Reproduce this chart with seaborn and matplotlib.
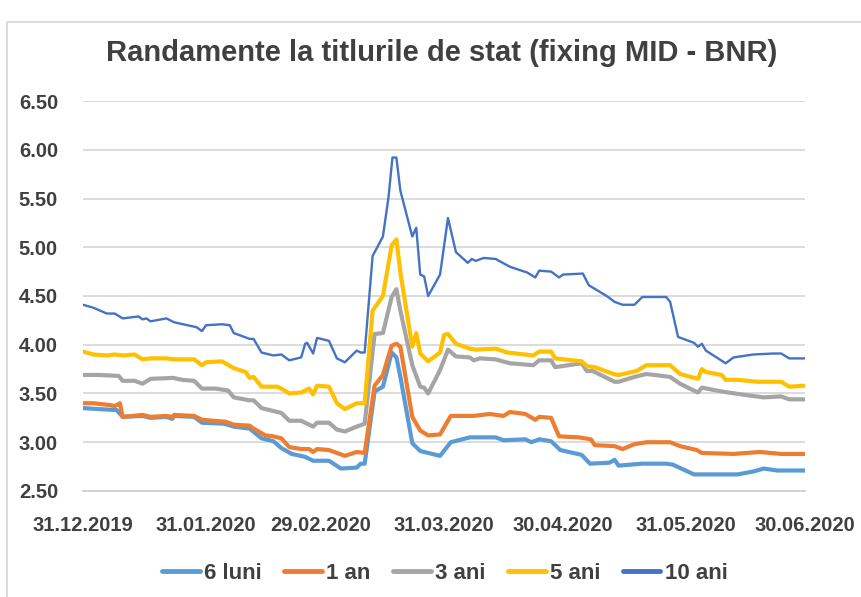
import pandas as pd
import numpy as np
import matplotlib
matplotlib.use("Agg")
import matplotlib.pyplot as plt
import matplotlib.dates as mdates
import seaborn as sns
from matplotlib.patches import Rectangle

# Data (days after 31.12.2019, yield in %)
start = pd.Timestamp("2019-12-31")

d_6l = [0, 4, 8.5, 10, 15, 17, 21, 22.5, 23, 28, 30, 35.6, 38, 42, 45, 48, 50, 52.6, 56, 58, 62, 65, 69, 70, 71,
        73.5, 75.6, 77.8, 79, 80, 83, 85, 90, 92.7, 97.5, 104, 106, 111.5, 113, 115, 118, 120.3, 125.7, 127.8,
        132.7, 134, 135, 141, 147, 148.7, 154, 162.5, 165, 169, 171.6, 175, 182]
v_6l = [3.35, 3.34, 3.33, 3.26, 3.27, 3.25, 3.26, 3.24, 3.27, 3.26, 3.20, 3.19, 3.16, 3.14, 3.04, 3.01, 2.94, 2.88,
        2.85, 2.81, 2.81, 2.73, 2.74, 2.78, 2.78, 3.52, 3.57, 3.92, 3.87, 3.67, 2.99, 2.91, 2.86, 3.00, 3.05, 3.05,
        3.02, 3.03, 3.00, 3.03, 3.01, 2.92, 2.87, 2.78, 2.79, 2.82, 2.76, 2.78, 2.78, 2.77, 2.67, 2.67, 2.67, 2.70,
        2.73, 2.71, 2.71]

d_1a = [0, 2.6, 7, 8, 9.3, 10, 15, 17, 21, 22.5, 23, 28, 30, 36, 38, 42, 43, 46, 48, 50, 52, 55, 57, 58, 59, 62, 64,
        66, 69, 71, 73.5, 75.6, 77.8, 79, 80, 83, 85, 87, 90, 92.7, 98.5, 102.5, 106, 107.6, 111.5, 114, 115, 118,
        120, 125, 128, 129, 134, 136, 139, 142, 148, 150.5, 154.7, 156, 164, 170.6, 176, 182]
v_1a = [3.40, 3.40, 3.38, 3.37, 3.40, 3.26, 3.28, 3.26, 3.27, 3.26, 3.28, 3.27, 3.23, 3.21, 3.18, 3.17, 3.14, 3.07,
        3.06, 3.04, 2.95, 2.93, 2.93, 2.90, 2.93, 2.92, 2.89, 2.86, 2.90, 2.89, 3.58, 3.69, 3.99, 4.01, 3.98, 3.26,
        3.12, 3.07, 3.08, 3.27, 3.27, 3.29, 3.27, 3.31, 3.29, 3.23, 3.26, 3.25, 3.06, 3.05, 3.03, 2.97, 2.96, 2.93,
        2.98, 3.00, 3.00, 2.96, 2.92, 2.89, 2.88, 2.90, 2.88, 2.88]

d_3a = [0, 4, 9, 10, 13, 15, 17, 22.7, 25, 28, 30, 33.5, 36.6, 38, 42, 43, 45, 49, 50, 52, 55, 57, 58, 59, 62, 64,
        66, 69, 71, 73.5, 75.6, 77.8, 79, 80, 83, 85, 86, 87, 90, 92, 94, 97.5, 98.5, 100, 104, 107.6, 113.5, 115,
        118, 119, 125.7, 127, 128.5, 134, 135, 139, 142, 148, 150.5, 155, 156, 161, 166, 171.5, 176, 178, 182]
v_3a = [3.69, 3.69, 3.68, 3.63, 3.63, 3.60, 3.65, 3.66, 3.64, 3.63, 3.55, 3.55, 3.53, 3.46, 3.43, 3.43, 3.35, 3.31,
        3.30, 3.22, 3.22, 3.18, 3.16, 3.20, 3.20, 3.13, 3.11, 3.16, 3.19, 4.11, 4.12, 4.49, 4.57, 4.35, 3.79, 3.57,
        3.56, 3.50, 3.74, 3.95, 3.88, 3.87, 3.84, 3.86, 3.85, 3.81, 3.79, 3.84, 3.84, 3.77, 3.81, 3.73, 3.73, 3.62,
        3.62, 3.67, 3.70, 3.67, 3.60, 3.51, 3.56, 3.52, 3.49, 3.46, 3.47, 3.44, 3.44]

d_5a = [0, 2.6, 6, 8, 10, 13, 15, 17, 21, 23, 28, 30, 31, 35, 38, 41, 42, 43, 45, 49, 50, 52, 55, 57, 58, 59, 62, 64,
        66, 69, 71, 73, 75.6, 77.8, 79, 80, 83, 84, 85, 87, 90, 91, 92, 94, 97.5, 99, 104, 107, 113.5, 115, 118,
        119, 125.7, 127, 129, 133.7, 135, 139.5, 142, 148, 150.5, 155, 156, 157, 161, 162, 165, 170, 176, 178, 182]
v_5a = [3.93, 3.90, 3.89, 3.90, 3.89, 3.90, 3.85, 3.86, 3.86, 3.85, 3.85, 3.79, 3.82, 3.83, 3.76, 3.72, 3.66, 3.67,
        3.57, 3.57, 3.55, 3.50, 3.51, 3.55, 3.49, 3.58, 3.57, 3.40, 3.34, 3.40, 3.40, 4.35, 4.50, 5.02, 5.08, 4.74,
        3.98, 4.12, 3.91, 3.83, 3.92, 4.10, 4.11, 4.01, 3.96, 3.95, 3.96, 3.92, 3.89, 3.93, 3.93, 3.86, 3.83, 3.78,
        3.77, 3.70, 3.69, 3.73, 3.79, 3.79, 3.70, 3.65, 3.75, 3.72, 3.69, 3.64, 3.64, 3.62, 3.62, 3.57, 3.58]

d_10a = [0, 2.6, 6, 8, 10, 14, 15, 16, 17, 21, 23, 28.6, 30, 31, 35, 37, 38, 42, 43, 45, 48, 50, 52, 55, 56, 56.5,
         58, 59, 62, 64, 66, 69, 70, 71, 73, 75.6, 77, 78, 79, 80, 83, 84, 85, 86, 87, 90, 92, 94, 97, 98, 99, 101,
         104, 107.6, 112, 114, 115, 118, 120, 121, 126, 127.5, 132, 134, 136, 139, 141, 147, 148, 150, 154, 155,
         156, 157, 162, 164, 169, 174, 176, 178, 182]
v_10a = [4.41, 4.38, 4.32, 4.32, 4.27, 4.29, 4.26, 4.27, 4.24, 4.27, 4.23, 4.18, 4.14, 4.20, 4.21, 4.20, 4.12, 4.06,
         4.06, 3.92, 3.89, 3.90, 3.84, 3.87, 4.01, 4.02, 3.91, 4.07, 4.04, 3.86, 3.82, 3.94, 3.92, 3.92, 4.91, 5.11,
         5.51, 5.92, 5.92, 5.58, 5.11, 5.20, 4.72, 4.70, 4.50, 4.72, 5.30, 4.95, 4.84, 4.88, 4.86, 4.89, 4.88, 4.80,
         4.74, 4.69, 4.76, 4.75, 4.69, 4.72, 4.73, 4.61, 4.50, 4.44, 4.41, 4.41, 4.49, 4.49, 4.44, 4.08, 4.02, 3.98,
         4.01, 3.94, 3.81, 3.87, 3.90, 3.91, 3.91, 3.86, 3.86]

series_names = ["6 luni", "1 an", "3 ani", "5 ani", "10 ani"]
series_days = [d_6l, d_1a, d_3a, d_5a, d_10a]
series_vals = [v_6l, v_1a, v_3a, v_5a, v_10a]
colors = ["#5B9BD5", "#ED7D31", "#A5A5A5", "#FFC000", "#4472C4"]
widths = [3.0, 3.0, 3.0, 3.0, 1.7]

tick_dates = ["2019-12-31", "2020-01-31", "2020-02-29", "2020-03-31", "2020-04-30", "2020-05-31", "2020-06-30"]

frames = []
for name, days, vals in zip(series_names, series_days, series_vals):
    frames.append(pd.DataFrame({"data": start + pd.to_timedelta(days, unit="D"),
                                "randament": vals, "serie": name}))
df = pd.concat(frames, ignore_index=True)

sns.set_theme(style="white")
plt.rcParams["font.family"] = ["Liberation Sans", "DejaVu Sans"]
plt.rcParams["font.weight"] = "bold"

fig = plt.figure(figsize=(8.62, 5.97), dpi=100)
ax = fig.add_axes([0.0963, 0.1776, 0.8376, 0.6532])

sns.lineplot(data=df, x="data", y="randament", hue="serie", hue_order=series_names,
             palette=colors, size="serie", sizes=dict(zip(series_names, widths)),
             size_order=series_names, ax=ax, legend=False, sort=True, estimator=None)

ax.set_ylim(2.5, 6.5)
ax.set_yticks(np.arange(2.5, 6.51, 0.5))
ax.yaxis.set_major_formatter(matplotlib.ticker.FormatStrFormatter("%.2f"))
ax.set_xlim(pd.Timestamp(tick_dates[0]), pd.Timestamp(tick_dates[-1]))
ax.set_xticks(pd.to_datetime(tick_dates))
ax.xaxis.set_major_formatter(mdates.DateFormatter("%d.%m.%Y"))
ax.grid(axis="y", color="#D9D9D9", linewidth=1.3)
ax.set_axisbelow(True)
for s in ["top", "right", "left"]:
    ax.spines[s].set_visible(False)
ax.spines["bottom"].set_color("#D0D0D0")
ax.spines["bottom"].set_linewidth(1.3)
ax.tick_params(axis="x", which="major", direction="out", length=9, width=1.3, color="#D0D0D0",
               labelsize=14.5, labelcolor="#404040", pad=9)
ax.tick_params(axis="y", length=0, labelsize=14.5, labelcolor="#404040", pad=18)
ax.set_xlabel("")
ax.set_ylabel("")

fig.text(0.512, 0.911, "Randamente la titlurile de stat (fixing MID - BNR)", ha="center", va="center",
         fontsize=21, fontweight="bold", color="#404040")

handles = [plt.Line2D([], [], color=c, linewidth=3.5) for c in colors]
fig.legend(handles, series_names, loc="center", bbox_to_anchor=(0.516, 0.04), ncol=5, frameon=False,
           fontsize=16, handlelength=1.7, handletextpad=0.2, columnspacing=1.0, labelcolor="#404040")

fig.patches.append(Rectangle((7 / 862, -0.1), 1.2, 1.1 - 22 / 597, transform=fig.transFigure,
                             fill=False, edgecolor="#D9D9D9", linewidth=1.3))

fig.savefig("out.png", dpi=100)
